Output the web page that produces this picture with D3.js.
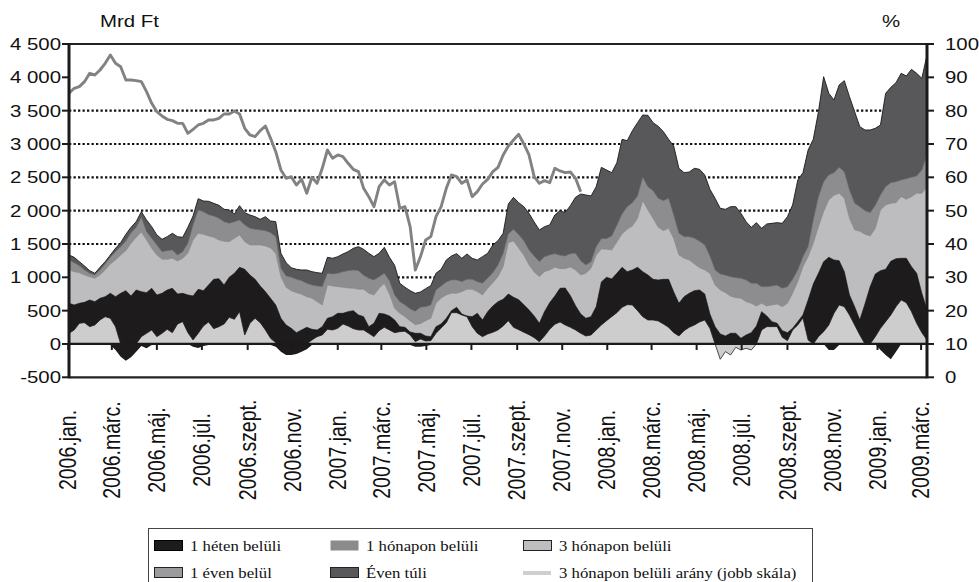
<!DOCTYPE html>
<html><head><meta charset="utf-8">
<script src="https://cdn.jsdelivr.net/npm/d3@7"></script>
<style>body{margin:0;background:#fff}</style>
</head><body>
<svg id="c" width="979" height="582"></svg>
<script>
// ---- DATA (weekly readings, Mrd Ft; ratio in %) ----
const startDate = new Date(2006, 0, 2);
const weekCount = 167;
// top of "Éven túli" layer (total)
const evenTuliTop = [1335,1300,1235,1170,1100,1060,1150,1235,1335,1435,1520,1645,1750,1835,1985,1860,1760,1635,1570,1610,1660,1610,1600,1750,1920,2180,2145,2140,2110,2080,2020,2010,1950,2075,1970,1935,1910,1870,1910,1845,1835,1360,1220,1145,1120,1110,1110,1085,1070,1060,1300,1285,1310,1350,1385,1435,1460,1420,1360,1310,1360,1450,1300,1180,910,850,800,760,780,830,875,1060,1120,1260,1320,1355,1285,1350,1285,1260,1310,1360,1485,1550,1660,2100,2200,2120,2060,1960,1830,1710,1760,1785,1935,2000,1970,2075,2200,2250,2235,2220,2360,2650,2610,2570,2720,3070,3050,3200,3320,3435,3430,3320,3265,3185,3070,2970,2635,2570,2580,2635,2620,2535,2320,2185,2035,2020,2060,2060,1960,1835,1750,1820,1735,1800,1810,1820,1810,1910,2085,2460,2570,2910,3070,3485,4010,3760,3660,3885,3950,3710,3485,3260,3210,3210,3235,3285,3760,3850,3920,4060,4020,4120,4060,3985,4335];
// top of "1 éven belül" layer
const egyEvenTop = [1260,1220,1175,1110,1060,1035,1110,1200,1300,1385,1460,1545,1670,1750,1900,1685,1585,1485,1385,1400,1410,1335,1385,1510,1785,2010,1985,1940,1920,1885,1835,1810,1835,1860,1785,1735,1720,1710,1700,1670,1610,1135,1020,1000,970,950,910,885,870,860,1060,1050,1060,1085,1100,1110,1100,1030,985,960,1010,1060,950,735,635,585,525,490,550,560,585,810,870,930,960,960,935,970,970,935,910,990,1070,1185,1360,1650,1720,1640,1550,1410,1320,1235,1310,1335,1355,1330,1320,1355,1360,1250,1185,1235,1460,1580,1580,1620,1780,1950,2060,2120,2220,2500,2360,2300,2185,2150,2185,1935,1660,1610,1610,1585,1540,1485,1320,1110,1050,1030,1010,995,985,960,910,910,860,860,870,880,835,860,970,1110,1310,1460,1860,2210,2435,2535,2570,2650,2585,2310,2110,2060,2000,1970,2080,2235,2360,2420,2435,2460,2480,2500,2520,2610,2835];
// top of "3 hónapon belüli" layer
const haromHonapTop = [1110,1085,1070,1035,1010,985,1035,1110,1200,1260,1335,1400,1510,1600,1680,1560,1435,1335,1270,1270,1285,1245,1285,1360,1560,1660,1645,1620,1600,1560,1540,1535,1585,1635,1535,1485,1485,1485,1470,1440,1360,1010,850,800,770,745,710,685,635,585,885,870,860,850,840,835,820,820,760,735,835,910,750,535,460,410,345,290,305,350,385,610,690,735,760,760,785,820,820,785,735,835,920,1010,1160,1520,1545,1440,1330,1185,1080,1010,1085,1110,1150,1130,1130,1155,1110,1035,1060,1135,1335,1425,1420,1410,1530,1650,1720,1770,1885,2150,2010,1885,1750,1700,1735,1580,1335,1285,1260,1200,1145,1110,1060,885,810,770,715,695,685,635,610,570,610,570,585,600,560,610,760,935,1160,1310,1510,1760,1985,2160,2230,2260,2185,1885,1710,1690,1645,1620,1735,2010,2085,2110,2120,2210,2170,2210,2260,2260,2360];
// "1 héten belüli" band: top and lowest edge
const egyHetTop = [610,585,610,625,660,635,685,710,760,710,760,800,720,810,785,770,835,735,760,810,835,750,760,735,720,820,800,885,970,980,885,1000,1060,1150,1120,1035,970,870,785,685,585,385,285,235,170,210,250,220,210,260,385,410,460,460,485,500,435,410,260,310,460,450,420,360,260,250,180,160,160,120,110,260,300,385,500,550,450,420,410,460,360,485,570,635,670,750,700,665,590,510,420,310,485,620,720,835,840,725,575,450,385,410,560,930,1000,975,1060,1150,1085,1110,1150,1085,1035,970,960,970,970,780,610,710,760,800,810,750,450,260,150,120,160,160,85,135,170,270,485,420,335,310,200,170,235,335,435,660,900,1060,1235,1300,1260,1250,1085,735,560,360,600,860,1050,1100,1120,1240,1280,1285,1285,1160,1060,760,510];
const egyHetLow = [0,0,0,0,0,0,0,0,-15,-90,-190,-250,-200,-115,-30,-65,-15,0,0,0,0,0,0,0,-40,-60,-30,-15,-10,0,0,0,0,0,0,0,0,0,0,-15,-40,-115,-165,-165,-150,-115,-80,-15,0,0,0,0,0,0,0,0,0,0,-15,0,0,0,0,0,0,0,-15,-40,-40,-30,-15,0,0,0,0,0,0,0,0,0,0,0,0,0,0,0,0,0,0,0,0,-15,0,0,0,0,0,0,0,0,0,0,0,0,0,0,0,0,0,0,0,0,0,0,0,0,0,0,0,0,0,0,0,0,0,0,0,0,0,0,0,0,0,0,0,0,0,0,0,0,0,0,0,0,0,0,0,-90,-90,-15,0,0,0,0,0,0,0,-90,-165,-230,-115,0,0,0,0,0,0,0,-65,-90,-40];
// light base region under the black band
const alapTop = [160,210,310,320,260,285,360,410,385,260,0,0,0,0,110,160,210,110,160,220,170,300,335,170,60,160,270,330,230,260,300,400,370,485,135,310,385,320,210,85,20,0,0,0,0,0,0,60,110,135,220,210,235,300,270,230,210,210,160,110,200,250,210,170,185,190,135,35,75,45,50,160,240,320,470,470,435,410,260,160,110,150,175,210,270,350,250,215,175,140,95,35,120,220,295,330,285,250,210,160,120,135,210,285,350,410,470,550,590,585,500,410,360,360,345,300,250,170,120,200,250,285,330,360,235,0,-230,-115,-165,-50,-90,-65,-90,0,210,260,260,260,100,50,210,285,390,60,0,110,185,285,460,585,560,435,285,135,0,0,110,235,335,435,560,660,620,485,310,170,60];
// 3 hónapon belüli arány (jobb skála), %
const arany = [85.2,86.7,87.2,88.7,91.2,90.7,92.2,94.2,96.7,94.2,93.2,89.2,89.2,89,88.7,85.7,82.2,79.7,78.4,77.4,77,76.2,76.2,73.2,74.4,75.7,76.2,77.2,77.2,77.7,79,79,79.9,79,74.7,72.7,72.2,74,75.4,71.7,67.7,62.2,59.7,60.2,57.7,59.4,55.2,60,58.2,62.7,68.2,65.7,66.7,66.2,64.2,62.4,61.7,56.7,54.2,51.2,57.2,59.2,57.7,58.7,50.7,51.2,45.2,32.2,36.2,41.2,42.2,48.2,51.2,56.7,60.7,60.2,58.2,59.2,54.2,55.7,58,59.4,61.7,63,66.7,69.4,71.2,72.9,70,66.7,60.2,58.2,59,58.4,62.7,61.9,61.4,61.6,59.7,55.7];

const xLabels = ["2006.jan.","2006.márc.","2006.máj.","2006.júl.","2006.szept.","2006.nov.","2007.jan.","2007.márc.","2007.máj.","2007.júl.","2007.szept.","2007.nov.","2008.jan.","2008.márc.","2008.máj.","2008.júl.","2008.szept.","2008.nov.","2009.jan.","2009.márc."];
const leftTicks = [-500,0,500,1000,1500,2000,2500,3000,3500,4000,4500];
const rightTicks = [0,10,20,30,40,50,60,70,80,90,100];
const gridValues = [500,1000,1500,2000,2500,3000,3500];

const legendItems = [
  {label:"1 héten belüli", kind:"box", fill:"#1e1b1c", stroke:"#000"},
  {label:"1 hónapon belüli", kind:"box", fill:"#8b8b8d", stroke:"none"},
  {label:"3 hónapon belüli", kind:"box", fill:"#bebec0", stroke:"#222"},
  {label:"1 éven belül", kind:"box", fill:"#9b9b9d", stroke:"#222"},
  {label:"Éven túli", kind:"box", fill:"#58585a", stroke:"#222"},
  {label:"3 hónapon belüli arány (jobb skála)", kind:"line", fill:"#cfcfcf"}
];

// ---- CHART ----
const dates = d3.range(weekCount).map(i => d3.timeDay.offset(startDate, 7 * i));
const labelDates = xLabels.map((_, i) => new Date(2006, 2 * i, 1));

const svg = d3.select("#c");
const X0 = 69, X1 = 927, YT = 44, YB = 377.3;
const x = d3.scaleTime().domain([dates[0], dates[weekCount - 1]]).range([X0, X1]);
const y = d3.scaleLinear().domain([-500, 4500]).range([YB, YT]);
const yR = d3.scaleLinear().domain([0, 100]).range([YB, YT]);

const sans = "'Liberation Sans', Arial, Helvetica, sans-serif";
const serif = "'Liberation Serif', 'Times New Roman', serif";

svg.append("defs").append("clipPath").attr("id", "plot")
  .append("rect").attr("x", X0).attr("y", YT).attr("width", X1 - X0).attr("height", YB - YT);

// gridlines
svg.append("g").selectAll("line").data(gridValues).join("line")
  .attr("x1", X0).attr("x2", X1).attr("y1", d => y(d)).attr("y2", d => y(d))
  .attr("stroke", "#111").attr("stroke-width", 2.2).attr("stroke-dasharray", "2.3,2.2");

const plot = svg.append("g").attr("clip-path", "url(#plot)");

// ratio line (behind the areas)
plot.append("path").datum(arany)
  .attr("d", d3.line().x((d, i) => x(dates[i])).y(d => yR(d)))
  .attr("fill", "none").attr("stroke", "#828282").attr("stroke-width", 2.9)
  .attr("stroke-linejoin", "round");

function area(lo, hi) {
  return d3.area().x((d, i) => x(dates[i])).y0((d, i) => y(lo(i))).y1((d, i) => y(hi(i)));
}
const idx = d3.range(weekCount);
const layers = [
  {lo: () => 0, hi: i => evenTuliTop[i], fill: "#58585a", edge: "#1a1a1a", ew: 0.9},
  {lo: () => 0, hi: i => egyEvenTop[i], fill: "#8d8d8f", edge: "#6e6e6e", ew: 0.6},
  {lo: () => 0, hi: i => haromHonapTop[i], fill: "#bdbdbf", edge: "#8a8a8a", ew: 0.6},
  {lo: i => egyHetLow[i], hi: i => egyHetTop[i], fill: "#1e1b1c", edge: "#111", ew: 0.6},
  {lo: () => 0, hi: i => alapTop[i], fill: "#cdcdce", edge: "#222", ew: 0.8}
];
layers.forEach(L => {
  plot.append("path").datum(idx).attr("d", area(L.lo, L.hi)).attr("fill", L.fill);
  plot.append("path").datum(idx)
    .attr("d", d3.line().x((d, i) => x(dates[i])).y((d, i) => y(L.hi(i))))
    .attr("fill", "none").attr("stroke", L.edge).attr("stroke-width", L.ew);
});

// frame lines
svg.append("line").attr("x1", X0).attr("x2", X1).attr("y1", YT).attr("y2", YT)
  .attr("stroke", "#222").attr("stroke-width", 2.2);
svg.append("line").attr("x1", X0).attr("x2", X1).attr("y1", YB).attr("y2", YB)
  .attr("stroke", "#222").attr("stroke-width", 2.2);
svg.append("line").attr("x1", X0).attr("x2", X1).attr("y1", y(0)).attr("y2", y(0))
  .attr("stroke", "#1a1a1a").attr("stroke-width", 2.2);
svg.append("line").attr("x1", X0).attr("x2", X0).attr("y1", YT - 1).attr("y2", YB + 1)
  .attr("stroke", "#1a1a1a").attr("stroke-width", 3);
svg.append("line").attr("x1", X1).attr("x2", X1).attr("y1", YT - 1).attr("y2", YB + 1)
  .attr("stroke", "#1a1a1a").attr("stroke-width", 3);

// x ticks on zero line
svg.append("g").selectAll("line").data(labelDates).join("line")
  .attr("x1", d => x(d)).attr("x2", d => x(d)).attr("y1", y(0)).attr("y2", y(0) + 6)
  .attr("stroke", "#1a1a1a").attr("stroke-width", 2);

// left axis
const fmt = v => v < 0 ? "-" + Math.abs(v) : (v >= 1000 ? Math.floor(v / 1000) + " " + String(v % 1000).padStart(3, "0") : String(v));
const gl = svg.append("g");
gl.selectAll("line").data(leftTicks).join("line")
  .attr("x1", X0 - 7).attr("x2", X0).attr("y1", d => y(d)).attr("y2", d => y(d))
  .attr("stroke", "#1a1a1a").attr("stroke-width", 2);
gl.selectAll("text").data(leftTicks).join("text")
  .attr("transform", d => `translate(61,${y(d)}) scale(1.2,1)`)
  .attr("dy", "0.36em").attr("text-anchor", "end")
  .attr("font-family", sans).attr("font-size", 17).attr("fill", "#111")
  .text(fmt);

// right axis
const gr = svg.append("g");
gr.selectAll("line").data(rightTicks).join("line")
  .attr("x1", X1).attr("x2", X1 + 7).attr("y1", d => yR(d)).attr("y2", d => yR(d))
  .attr("stroke", "#1a1a1a").attr("stroke-width", 2);
gr.selectAll("text").data(rightTicks).join("text")
  .attr("transform", d => `translate(945,${yR(d)}) scale(1.2,1)`)
  .attr("dy", "0.36em").attr("text-anchor", "start")
  .attr("font-family", sans).attr("font-size", 17).attr("fill", "#111")
  .text(d => d);

// axis titles
svg.append("text").attr("transform", "translate(100,27) scale(1.2,1)")
  .attr("font-family", sans).attr("font-size", 17).attr("fill", "#111").text("Mrd Ft");
svg.append("text").attr("transform", "translate(882,27) scale(1.2,1)")
  .attr("font-family", sans).attr("font-size", 17).attr("fill", "#111").text("%");

// x labels
svg.append("g").selectAll("text").data(xLabels).join("text")
  .attr("transform", (d, i) => `translate(${x(labelDates[i])},450) rotate(-90) scale(1,1.2)`)
  .attr("text-anchor", "middle").attr("dy", "0.35em")
  .attr("font-family", sans).attr("font-size", 19.5).attr("fill", "#111")
  .text(d => d);

// legend
const lg = svg.append("g");
lg.append("rect").attr("x", 148.5).attr("y", 528.5).attr("width", 664).attr("height", 60)
  .attr("fill", "none").attr("stroke", "#444").attr("stroke-width", 1);
const colX = [154, 330, 523], rowY = [546, 573];
legendItems.forEach((it, i) => {
  const cx = colX[i % 3], cy = rowY[Math.floor(i / 3)];
  if (it.kind === "box") {
    lg.append("rect").attr("x", cx + 0.5).attr("y", cy - 5.5).attr("width", 28).attr("height", 10)
      .attr("fill", it.fill).attr("stroke", it.stroke).attr("stroke-width", 1);
  } else {
    lg.append("line").attr("x1", cx).attr("x2", cx + 28).attr("y1", cy).attr("y2", cy)
      .attr("stroke", it.fill).attr("stroke-width", 4);
  }
  lg.append("text").attr("transform", `translate(${cx + 36},${cy}) scale(1.08,1)`)
    .attr("dy", "0.33em").attr("font-family", serif).attr("font-size", 15.5).attr("fill", "#111")
    .text(it.label);
});
</script>
</body></html>
